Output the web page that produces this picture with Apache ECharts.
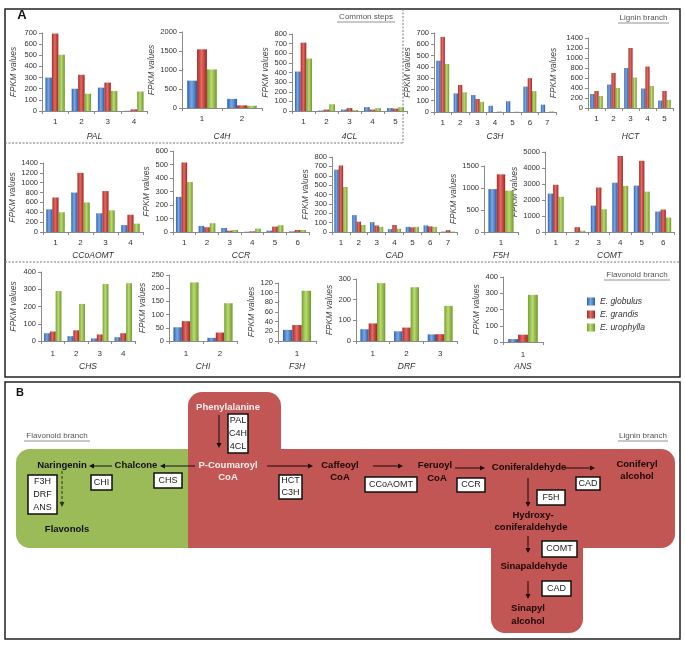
<!DOCTYPE html>
<html><head><meta charset="utf-8">
<script src="https://cdn.jsdelivr.net/npm/echarts@6/dist/echarts.min.js"></script>
<style>html,body{margin:0;padding:0;background:#fff}#c{width:685px;height:645px}</style>
</head><body><div id="c"></div>
<script>
// ---------- DATA ----------
const species = ['E. globulus', 'E. grandis', 'E. urophylla'];
const genes = ['PAL','C4H','4CL','C3H','HCT','CCoAOMT','CCR','CAD','F5H','COMT','CHS','CHI','F3H','DRF','ANS'];
// FPKM values: [E. globulus], [E. grandis], [E. urophylla]; one value per gene copy (1..n)
const PAL     = [[300,200,210,2],[695,325,255,15],[505,155,180,175]];
const C4H     = [[720,240],[1545,70],[1015,60]];
const CL4     = [[410,5,15,40,30],[710,15,30,15,25],[545,70,10,30,40]];
const C3H     = [[455,165,150,55,95,225,65],[665,240,115,0,0,300,0],[425,175,90,5,3,185,5]];
const HCT     = [[280,470,800,390,150],[340,700,1200,830,340],[240,400,610,440,165]];
const CCoAOMT = [[460,800,380,140],[700,1200,830,350],[400,600,440,170]];
const CCR     = [[260,45,30,2,10,5],[515,35,10,5,40,15],[370,65,15,25,50,15]];
const CAD     = [[665,180,105,30,55,70,5],[710,110,70,75,50,60,20],[480,75,55,35,55,55,5]];
const F5H     = [[975],[1310],[940]];
const COMT    = [[2400,0,1650,3080,2900,1280],[2950,300,2780,4750,4450,1400],[2200,80,1420,2880,2520,900]];
const CHS     = [[45,28,15,22],[55,62,38,45],[290,215,330,335]];
const CHI     = [[52,12],[75,32],[222,143]];
const F3H     = [[23],[33],[104]];
const DRF     = [[57,47,32],[85,65,33],[280,260,170]];
const ANS     = [[18],[45],[290]];
const values = [PAL,C4H,CL4,C3H,HCT,CCoAOMT,CCR,CAD,F5H,COMT,CHS,CHI,F3H,DRF,ANS];
// y-axis tick ranges
const yMax  = [700,2000,800,700,1400,1400,600,800,1500,5000,400,250,120,300,400];
const yStep = [100,500,100,100,200,200,100,100,500,1000,100,50,20,100,100];

// ---------- LAYOUT ----------
// x0, x1, top, bottom, yNameGap, xNameGap, labelMargin
const layout = [
  [42,147,33,111,24,21,7],
  [182,262,32,108,25,24,7],
  [292,407,34,111,21,21,7],
  [434,556,33,112,18,20,7],
  [588,673,38,108,30,24,7],
  [43,143,163,232,24,19,7],
  [173,309,151,232,21,19,7],
  [332,457,157,232,22,19,7],
  [484,518,166,232,20,19,7],
  [545,674,152,232,21,19,7],
  [41,135,272,341,23,21,9],
  [169,237,275,341,20,21,9],
  [278,316,283,341,21,21,9],
  [356,457,279,341,21,21,9],
  [503,543,277,342,19,20,9]
];
const FONT = 'Liberation Sans';
const barColors = [
  ['#2c62ad','#78a8e8','#2a5b9f'],
  ['#a52a27','#e66a63','#9c2724'],
  ['#76a032','#b9dc6f','#6f962e']
];
function grad(c){return {type:'linear',x:0,y:0,x2:1,y2:0,colorStops:[{offset:0,color:c[0]},{offset:0.45,color:c[1]},{offset:1,color:c[2]}]};}

const grids=[], xAxes=[], yAxes=[], series=[];
genes.forEach((gname,i)=>{
  const L = layout[i];
  grids.push({left:L[0], top:L[2], width:L[1]-L[0], height:L[3]-L[2], outerBoundsMode:'none', containLabel:false});
  const n = values[i][0].length;
  xAxes.push({type:'category', gridIndex:i, data:Array.from({length:n},(_,k)=>String(k+1)),
    axisLine:{lineStyle:{color:'#8a8a8a'}}, axisTick:{show:true,length:3,lineStyle:{color:'#8a8a8a'}},
    axisLabel:{fontSize:8, color:'#333', margin:L[6], fontFamily:FONT},
    name:gname, nameLocation:'middle', nameGap:L[5],
    nameTextStyle:{fontStyle:'italic', fontSize:8.5, color:'#333', fontFamily:FONT}});
  yAxes.push({type:'value', gridIndex:i, min:0, max:yMax[i], interval:yStep[i],
    splitLine:{show:false}, axisLine:{show:true,lineStyle:{color:'#8a8a8a'}},
    axisTick:{show:true,length:3,lineStyle:{color:'#8a8a8a'}},
    axisLabel:{fontSize:7.5, color:'#333', margin:5, fontFamily:FONT, formatter:v=>String(v)},
    name:'FPKM values', nameLocation:'middle', nameRotate:90, nameGap:L[4],
    nameTextStyle:{fontStyle:'italic', fontSize:8.5, color:'#444', fontFamily:FONT}});
  values[i].forEach((arr,s)=>{
    series.push({type:'bar', name:species[s], xAxisIndex:i, yAxisIndex:i, data:arr,
      barGap:'0%', barCategoryGap:'26%', itemStyle:{color:grad(barColors[s])}});
  });
});

// ---------- GRAPHICS ----------
const g = [];
function txt(x,y,t,o){g.push({type:'text',x:x,y:y,style:Object.assign({text:t,fill:'#111',fontSize:9.5,fontFamily:FONT,fontWeight:'bold',align:'center',verticalAlign:'middle'},o||{})});}
function rect(x,y,w,h,o){g.push({type:'rect',shape:{x:x,y:y,width:w,height:h,r:o.r||0},style:{fill:o.fill||'none',stroke:o.stroke||null,lineWidth:o.lw||1}});}
function line(x1,y1,x2,y2,o){o=o||{};g.push({type:'line',shape:{x1:x1,y1:y1,x2:x2,y2:y2},style:{stroke:o.stroke||'#111',lineWidth:o.lw||1,lineDash:o.dash||null}});}
function arrow(x1,y1,x2,y2,o){
  o=o||{};
  const dx=x2-x1, dy=y2-y1, len=Math.sqrt(dx*dx+dy*dy), ux=dx/len, uy=dy/len, hl=5, hw=2.5;
  const bx=x2-ux*hl, by=y2-uy*hl;
  line(x1,y1,bx,by,o);
  g.push({type:'polygon',shape:{points:[[x2,y2],[bx-uy*hw,by+ux*hw],[bx+uy*hw,by-ux*hw]]},style:{fill:o.stroke||'#111'}});
}
function box(x0,y0,x1,y1,lines){
  rect(x0,y0,x1-x0,y1-y0,{fill:'#fff',stroke:'#111',lw:1.5});
  const h=(y1-y0)/lines.length;
  lines.forEach((t,k)=>txt((x0+x1)/2, y0+h*(k+0.5), t, {fontWeight:'normal',fontSize:9,fill:'#222'}));
}
function ulabel(x0,x1,y,t){txt((x0+x1)/2,y,t,{fontWeight:'normal',fontSize:8,fill:'#555'}); line(x0,y+5,x1,y+5,{stroke:'#777',lw:0.8});}

// panel frames
rect(5,9,675,368,{stroke:'#222',lw:1.5});
rect(5,382,675,257,{stroke:'#222',lw:1.5});
// dashed separators
line(5,143,403,143,{stroke:'#777',dash:[2,1.5]});
line(403,9,403,143,{stroke:'#777',dash:[2,1.5]});
line(5,262,680,262,{stroke:'#777',dash:[2,1.5]});
txt(22,15,'A',{fontSize:13});
ulabel(337,395,17,'Common steps');
ulabel(618,669,18,'Lignin branch');
ulabel(604,670,275,'Flavonoid branch');

// panel B
txt(20,393,'B',{fontSize:11});
ulabel(24,90,436,'Flavonoid branch');
ulabel(618,668,436,'Lignin branch');
const RED='#c25654', GREEN='#9bbb59';
rect(16,449,190,99,{fill:GREEN,r:[14,0,0,14]});
rect(188,392,93,66,{fill:RED,r:[14,14,0,0]});
rect(188,449,487,99,{fill:RED,r:[0,14,14,0]});
rect(491,540,92,93,{fill:RED,r:[0,0,14,14]});

const DK='#1c0606';
txt(228,407,'Phenylalanine',{fill:'#fbeeee'});
txt(228,465,'P-Coumaroyl',{fill:'#fbeeee'});
txt(228,477,'CoA',{fill:'#fbeeee'});
txt(340,465,'Caffeoyl',{fill:DK}); txt(340,477,'CoA',{fill:DK});
txt(435,465,'Feruoyl',{fill:DK}); txt(437,478,'CoA',{fill:DK});
txt(529,467,'Coniferaldehyde',{fill:DK});
txt(637,464,'Coniferyl',{fill:DK}); txt(637,476,'alcohol',{fill:DK});
txt(533,515,'Hydroxy-',{fill:DK}); txt(531,527,'coniferaldehyde',{fill:DK});
txt(534,566,'Sinapaldehyde',{fill:DK});
txt(528,608,'Sinapyl',{fill:DK}); txt(528,621,'alcohol',{fill:DK});
txt(136,465,'Chalcone',{fill:'#111'});
txt(62,465,'Naringenin',{fill:'#111'});
txt(67,529,'Flavonols',{fill:'#111'});

arrow(219,415,219,448);
arrow(267,466,313,466,{stroke:DK});
arrow(195,466,160,466);
arrow(112,466,89,466);
arrow(62,471,62,507,{dash:[3,2],stroke:'#2a3a10'});
arrow(373,466,403,466,{stroke:DK});
arrow(455,468,485,468,{stroke:DK});
arrow(565,468,595,468,{stroke:DK});
arrow(528,478,528,507,{stroke:DK});
arrow(528,536,528,553,{stroke:DK});
arrow(528,581,528,599,{stroke:DK});

box(228,414,248,453,['PAL','C4H','4CL']);
box(279,475,302,499,['HCT','C3H']);
box(154,473,182,488,['CHS']);
box(91,475,112,490,['CHI']);
box(28,475,57,514,['F3H','DRF','ANS']);
box(365,477,417,492,['CCoAOMT']);
box(457,478,485,492,['CCR']);
box(576,477,600,490,['CAD']);
box(537,490,565,505,['F5H']);
box(542,541,577,557,['COMT']);
box(542,581,571,596,['CAD']);

const chart = echarts.init(document.getElementById('c'));
chart.setOption({
  animation:false,
  backgroundColor:'#fff',
  grid:grids, xAxis:xAxes, yAxis:yAxes, series:series,
  legend:{orient:'vertical', left:582, top:292, itemWidth:8, itemHeight:8, itemGap:4, icon:'rect',
    data:species, textStyle:{fontSize:8.5, fontStyle:'italic', color:'#333', fontFamily:FONT}},
  graphic:{elements:g}
});
</script></body></html>
